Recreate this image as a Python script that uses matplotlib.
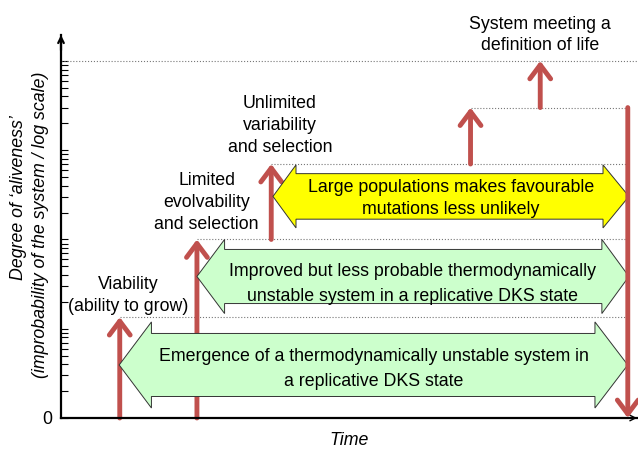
import numpy as np
import matplotlib
matplotlib.use('Agg')
import matplotlib.pyplot as plt
from matplotlib.patches import Polygon

plt.rcParams['font.family'] = ['Liberation Sans', 'DejaVu Sans']

# stages: time of the jump, level before and after (log scale, 1 == "0")
stage_times = [10.2, 23.6, 36.5, 71.1, 83.2]
stage_from = [1, 1, 100, 700, 3000]
stage_to = [13.5, 100, 700, 3000, 10000]
stage_labels = ['Viability\n(ability to grow)',
                'Limited\nevolvability\nand selection',
                'Unlimited\nvariability\nand selection',
                None,
                'System meeting a\ndefinition of life']

# collapse back to zero at the end
end_time = 98.4
end_from = 3000
end_to = 1

# block arrows: start time, end time, centre (decades), colour, text
band_start = [10.1, 23.6, 36.8]
band_end = [98.4, 98.6, 98.6]
band_centre = [0.594, 1.585, 2.482]
band_colors = ['#ccffcc', '#ccffcc', '#ffff00']
band_texts = ['Emergence of a thermodynamically unstable system in\na replicative DKS state',
              'Improved but less probable thermodynamically\nunstable system in a replicative DKS state',
              'Large populations makes favourable\nmutations less unlikely']

RED = '#c0504d'

fig = plt.figure(figsize=(6.38, 4.5), dpi=100)
ax = fig.add_axes([61/638, 32/450, 576/638, 383/450])
ax.set_yscale('log')
ax.set_ylim(1, 10**4.29)
ax.set_xlim(0, 100)

for s in ['top', 'right']:
    ax.spines[s].set_visible(False)
for s in ['left', 'bottom']:
    ax.spines[s].set_linewidth(1.6)

ax.set_xticks([])
ax.set_yticks([1, 10, 100, 1000, 10000])
ax.set_yticklabels(['0', '', '', '', ''], fontsize=12.8)
ax.tick_params(axis='y', which='both', direction='in', length=5, width=0.8)
ax.tick_params(axis='y', which='major', pad=6)

# axis arrow heads
ax.annotate('', xy=(0, 1.0), xytext=(0, 0.96), xycoords='axes fraction',
            arrowprops=dict(arrowstyle='->', lw=1.6, color='black',
                            shrinkA=0, shrinkB=0), annotation_clip=False)
ax.annotate('', xy=(1.0, 0), xytext=(0.97, 0), xycoords='axes fraction',
            arrowprops=dict(arrowstyle='->', lw=1.0, color='black',
                            shrinkA=0, shrinkB=0), annotation_clip=False)

# dotted level lines
for t, lev in zip(stage_times[:-1], stage_to[:-1]):
    ax.plot([t, end_time], [lev, lev], ls=':', lw=0.8, color='#777777', clip_on=False)
ax.plot([0, 100.3], [stage_to[-1], stage_to[-1]], ls=':', lw=0.8, color='#777777', clip_on=False)

# block double arrows
head_half = [0.482, 0.415, 0.353]
shaft_half = [0.353, 0.303, 0.255]
head_left = [5.6, 4.8, 4.0]
head_right = [5.7, 4.7, 4.5]
text_centre = [0.549, 1.501, 2.455]
text_spacing = [1.69, 1.69, 1.36]
for i in range(len(band_start)):
    x0, x1, c = band_start[i], band_end[i], band_centre[i]
    hh, sh, hl, hr = head_half[i], shaft_half[i], head_left[i], head_right[i]
    xs = [x0, x0 + hl, x0 + hl, x1 - hr, x1 - hr, x1, x1 - hr, x1 - hr, x0 + hl, x0 + hl]
    ds = [c, c + hh, c + sh, c + sh, c + hh, c, c - hh, c - sh, c - sh, c - hh]
    pts = np.column_stack([xs, 10 ** np.array(ds)])
    ax.add_patch(Polygon(pts, closed=True, facecolor=band_colors[i],
                         edgecolor='#333333', lw=0.7, zorder=3, clip_on=False))
    ax.text((x0 + x1) / 2, 10 ** text_centre[i], band_texts[i], ha='center', va='center',
            fontsize=12.8, linespacing=text_spacing[i], zorder=4)

# red stage arrows
arrow_style = '->,head_length=1.0,head_width=0.75'
for t, y0, y1 in zip(stage_times, stage_from, stage_to):
    ax.annotate('', xy=(t, y1), xytext=(t, y0),
                arrowprops=dict(arrowstyle=arrow_style, lw=3.5, color=RED,
                                shrinkA=0, shrinkB=0, mutation_scale=10),
                annotation_clip=False, zorder=2)
ax.annotate('', xy=(end_time, end_to), xytext=(end_time, end_from),
            arrowprops=dict(arrowstyle=arrow_style, lw=3.5, color=RED,
                            shrinkA=0, shrinkB=0, mutation_scale=10),
            annotation_clip=False, zorder=5)

# stage labels
label_pos = [(11.6, 1.372), (25.3, 2.415), (38.0, 3.277), None, (83.2, 4.29)]
for lab, pos in zip(stage_labels, label_pos):
    if lab is None:
        continue
    ax.text(pos[0], 10 ** pos[1], lab, ha='center', va='center',
            fontsize=12.8, linespacing=1.37)

ax.set_xlabel('Time', style='italic', fontsize=12.8, labelpad=10)
fig.text(19/638, 1 - 198/450, "Degree of \u2018aliveness\u2019", rotation=90,
         ha='center', va='center', style='italic', fontsize=12.8)
fig.text(41/638, 1 - 225/450, '(improbability of the system / log scale)', rotation=90,
         ha='center', va='center', style='italic', fontsize=12.8)

fig.savefig('out.png', dpi=100)
